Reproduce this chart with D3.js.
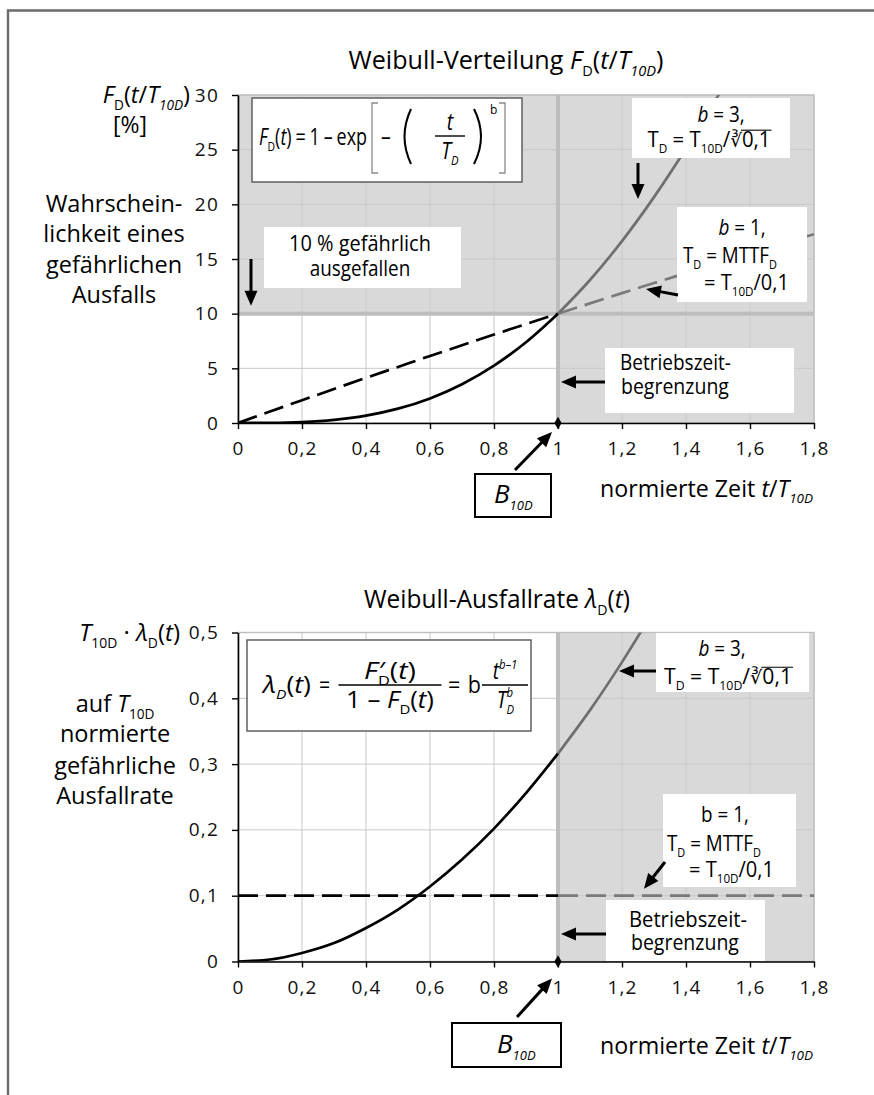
<!DOCTYPE html>
<html><head><meta charset="utf-8">
<script src="https://cdn.jsdelivr.net/npm/d3@7"></script>
<style>
html,body{margin:0;padding:0;background:#fff;}
svg text{font-family:"Open Sans","Noto Sans","DejaVu Sans",sans-serif;white-space:pre;}
</style></head><body>
<svg id="c" width="874" height="1095" xmlns="http://www.w3.org/2000/svg"></svg>
<script>
// ---------- data ----------
const xTicks = [0, 0.2, 0.4, 0.6, 0.8, 1, 1.2, 1.4, 1.6, 1.8];
const xTickLabels = ["0", "0,2", "0,4", "0,6", "0,8", "1", "1,2", "1,4", "1,6", "1,8"];
const yTicksTop = [0, 5, 10, 15, 20, 25, 30];
const yTickLabelsTop = ["0", "5", "10", "15", "20", "25", "30"];
const yTicksBottom = [0, 0.1, 0.2, 0.3, 0.4, 0.5];
const yTickLabelsBottom = ["0", "0,1", "0,2", "0,3", "0,4", "0,5"];

// Weibull distribution F_D in %  (b = 3)
const tF3 = [0, 0.1, 0.2, 0.3, 0.4, 0.5, 0.6, 0.7, 0.8, 0.9, 1.0, 1.1, 1.2, 1.3, 1.4, 1.5, 1.51];
const valF3 = [0, 0.01, 0.08, 0.28, 0.67, 1.31, 2.25, 3.55, 5.25, 7.39, 10.0, 13.08, 16.64, 20.66, 25.10, 29.92, 30.42];
// Weibull distribution F_D in %  (b = 1)
const tF1 = [0, 0.1, 0.2, 0.3, 0.4, 0.5, 0.6, 0.7, 0.8, 0.9, 1.0, 1.1, 1.2, 1.3, 1.4, 1.5, 1.6, 1.7, 1.8];
const valF1 = [0, 1.05, 2.08, 3.11, 4.13, 5.13, 6.13, 7.11, 8.09, 9.05, 10.0, 10.94, 11.88, 12.80, 13.71, 14.62, 15.51, 16.40, 17.27];
// normalised failure rate T10D*lambda_D (b = 3)
const tL3 = [0, 0.1, 0.2, 0.3, 0.4, 0.5, 0.6, 0.7, 0.8, 0.9, 1.0, 1.1, 1.2, 1.3];
const valL3 = [0, 0.003, 0.013, 0.028, 0.051, 0.079, 0.114, 0.155, 0.202, 0.256, 0.316, 0.382, 0.455, 0.534];
// normalised failure rate (b = 1)
const tL1 = [0, 1, 1.8];
const valL1 = [0.1, 0.1, 0.1];

// ---------- setup ----------
const svg = d3.select('#c');
const x = d3.scaleLinear().domain([0, 1.8]).range([238, 814]);
const yT = d3.scaleLinear().domain([0, 30]).range([423, 95]);
const yB = d3.scaleLinear().domain([0, 0.5]).range([961.5, 632.5]);

const SHADE = '#d9d9d9', GRID = '#c9c9c9', THICK = '#bdbdbd', GRAYLINE = '#6f6f6f';

svg.append('path').attr('d', 'M8,1095 V10.5 H874').attr('fill', 'none')
  .attr('stroke', '#6b6b6b').attr('stroke-width', 2.4);

const defs = svg.append('defs');

// sequence of text pieces (italic / sub / sup), optional fit width (horizontal scaling)
function seq(parent, px, py, parts, size, anchor, opts) {
  opts = opts || {};
  const g = parent.append('g');
  const inner = g.append('g');
  let cx = 0;
  parts.forEach(p => {
    if (typeof p === 'string') p = {t: p};
    const small = p.sub || p.sup;
    const fs = p.fs || (small ? size * 0.58 : size);
    const dy = p.sub ? size * 0.28 : (p.sup ? -size * 0.45 : 0);
    cx += (p.dx || 0);
    const t = inner.append('text').attr('x', cx).attr('y', dy + (p.dy || 0))
      .attr('font-size', fs)
      .attr('font-style', p.i ? 'italic' : 'normal')
      .attr('fill', opts.fill || '#000')
      .text(p.t);
    const w = t.node().getComputedTextLength();
    if (p.over) {
      inner.append('line').attr('x1', cx - 1).attr('x2', cx + w + 1)
        .attr('y1', -size * 0.8).attr('y2', -size * 0.8)
        .attr('stroke', '#000').attr('stroke-width', 1.1);
    }
    if (!p.noadv) cx += w;
  });
  const sx = opts.fit ? opts.fit / cx : (opts.sx || 1);
  const W = cx * sx;
  const sh = anchor === 'middle' ? -W / 2 : (anchor === 'end' ? -W : 0);
  g.attr('transform', `translate(${px + sh},${py}) scale(${sx},1)`);
  return {g: g, w: W};
}

function frac(parent, cx, yl, num, den, size, lineW, nOpts, dOpts) {
  seq(parent, cx, yl - 6, num, size, 'middle', nOpts);
  seq(parent, cx, yl + size * 0.98, den, size, 'middle', dOpts);
  parent.append('line').attr('x1', cx - lineW / 2).attr('x2', cx + lineW / 2)
    .attr('y1', yl).attr('y2', yl).attr('stroke', '#000').attr('stroke-width', 1.4);
}

function box(parent, x0, y0, x1, y1, stroke, sw) {
  parent.append('rect').attr('x', x0).attr('y', y0).attr('width', x1 - x0).attr('height', y1 - y0)
    .attr('fill', '#fff').attr('stroke', stroke || 'none').attr('stroke-width', sw || 0);
}

function arrow(parent, x1, y1, x2, y2) {
  const dx = x2 - x1, dy = y2 - y1, L = Math.hypot(dx, dy), ux = dx / L, uy = dy / L;
  const hl = 15, hw = 6.5;
  const bx = x2 - ux * hl, by = y2 - uy * hl;
  parent.append('line').attr('x1', x1).attr('y1', y1).attr('x2', bx + ux * 2).attr('y2', by + uy * 2)
    .attr('stroke', '#000').attr('stroke-width', 3);
  parent.append('path').attr('d', `M${x2},${y2}L${bx - uy * hw},${by + ux * hw}L${bx + uy * hw},${by - ux * hw}Z`)
    .attr('fill', '#000');
}

function paren(parent, xa, xb, y0, y1) {
  const ym = (y0 + y1) / 2;
  parent.append('path').attr('d', `M${xa},${y0}Q${xb},${ym} ${xa},${y1}`)
    .attr('fill', 'none').attr('stroke', '#000').attr('stroke-width', 2.1);
}

function bracket(parent, xa, xb, y0, y1) {
  parent.append('path').attr('d', `M${xb},${y0}H${xa}V${y1}H${xb}`)
    .attr('fill', 'none').attr('stroke', '#8a8a8a').attr('stroke-width', 1.3);
}

function panelBase(g, y, yTicks, shadeRects, id) {
  const x0 = x(0), x1 = x(1.8), yTop = y.range()[1], yBot = y.range()[0];
  g.append('rect').attr('x', x0).attr('y', yTop).attr('width', x1 - x0).attr('height', yBot - yTop).attr('fill', '#fff');
  shadeRects.forEach(r => {
    g.append('rect').attr('x', x(r[0])).attr('y', y(r[3])).attr('width', x(r[1]) - x(r[0]))
      .attr('height', y(r[2]) - y(r[3])).attr('fill', SHADE);
  });
  g.selectAll(null).data(xTicks.slice(1)).enter().append('line')
    .attr('x1', d => x(d)).attr('x2', d => x(d)).attr('y1', yTop).attr('y2', yBot)
    .attr('stroke', GRID).attr('stroke-width', 1);
  g.selectAll(null).data(yTicks.slice(1)).enter().append('line')
    .attr('x1', x0).attr('x2', x1).attr('y1', d => y(d)).attr('y2', d => y(d))
    .attr('stroke', GRID).attr('stroke-width', 1);
  g.append('rect').attr('x', x0).attr('y', yTop).attr('width', x1 - x0).attr('height', yBot - yTop)
    .attr('fill', 'none').attr('stroke', '#bfbfbf').attr('stroke-width', 1.4);
  defs.append('clipPath').attr('id', id).append('rect')
    .attr('x', x0).attr('y', yTop).attr('width', x1 - x0).attr('height', yBot - yTop);
}

function axes(g, y, yTicks, yLabels) {
  const ya = d3.axisLeft(y).tickValues(yTicks).tickFormat((d, i) => yLabels[i])
    .tickSize(6).tickSizeOuter(0).tickPadding(13);
  const xa = d3.axisBottom(x).tickValues(xTicks).tickFormat((d, i) => xTickLabels[i])
    .tickSize(6).tickSizeOuter(0).tickPadding(13);
  const gy = g.append('g').attr('transform', `translate(${x(0)},0)`).call(ya);
  const gx = g.append('g').attr('transform', `translate(0,${y(0)})`).call(xa);
  [gx, gy].forEach(a => {
    a.selectAll('path.domain').attr('stroke', '#000').attr('stroke-width', 1.6);
    a.selectAll('.tick line').attr('stroke', '#000').attr('stroke-width', 1.4);
    a.selectAll('.tick text').attr('font-size', 19).attr('fill', '#111')
      .attr('font-family', '"Open Sans","Noto Sans",sans-serif').attr('letter-spacing', 1.2);
  });
}

function curve(g, y, ts, vs, from, to, color, dash, clip) {
  const pts = ts.map((t, i) => [t, vs[i]]).filter(p => p[0] >= from && p[0] <= to);
  const line = d3.line().x(d => x(d[0])).y(d => y(d[1])).curve(d3.curveMonotoneX);
  g.append('path').attr('d', line(pts)).attr('fill', 'none').attr('stroke', color)
    .attr('stroke-width', 2.7).attr('stroke-dasharray', dash || null)
    .attr('clip-path', `url(#${clip})`);
}

// ================= TOP CHART =================
const gT = svg.append('g');
panelBase(gT, yT, yTicksTop, [[1, 1.8, 0, 30], [0, 1, 10, 30]], 'clipT');
gT.append('line').attr('x1', x(0)).attr('x2', x(1.8)).attr('y1', yT(10)).attr('y2', yT(10))
  .attr('stroke', THICK).attr('stroke-width', 4);
gT.append('line').attr('x1', x(1)).attr('x2', x(1)).attr('y1', yT(30)).attr('y2', yT(0))
  .attr('stroke', THICK).attr('stroke-width', 4);

curve(gT, yT, tF1, valF1, 0, 1, '#000', '20,8', 'clipT');
curve(gT, yT, tF1, valF1, 1, 1.8, '#7a7a7a', '20,8', 'clipT');
curve(gT, yT, tF3, valF3, 0, 1, '#000', null, 'clipT');
curve(gT, yT, tF3, valF3, 1, 2, GRAYLINE, null, 'clipT');
axes(gT, yT, yTicksTop, yTickLabelsTop);
gT.append('path').attr('d', d3.symbol(d3.symbolDiamond, 45)())
  .attr('transform', `translate(${x(1)},${yT(0)})`).attr('fill', '#000');

// title
seq(gT, 506, 69, ['Weibull-Verteilung ', {t: 'F', i: 1}, {t: 'D', sub: 1}, '(', {t: 't', i: 1}, '/', {t: 'T', i: 1}, {t: '10D', sub: 1, i: 1}, ')'], 25, 'middle', {fit: 315});
// left labels
seq(gT, 190, 103, [{t: 'F', i: 1}, {t: 'D', sub: 1}, '(', {t: 't', i: 1}, '/', {t: 'T', i: 1}, {t: '10D', sub: 1, i: 1}, ')'], 23.5, 'end');
seq(gT, 130, 133, ['[%]'], 23, 'middle');
[['Wahrschein-', 212], ['lichkeit eines', 242], ['gefährlichen', 273], ['Ausfalls', 303]].forEach(l => {
  seq(gT, 114, l[1], [l[0]], 23.5, 'middle');
});

// formula box
box(gT, 252, 98, 522, 182, '#555', 1.4);
(function () {
  const yF = 137, s = 23;
  seq(gT, 259, yF + 8, [{t: 'F', i: 1}, {t: 'D', sub: 1}, '(', {t: 't', i: 1}, ')', {t: '=', dx: 5}, {t: '1', dx: 5}, {t: '–', dx: 5}, {t: 'exp', dx: 5}], s, 'start', {fit: 108});
  bracket(gT, 372, 378, yF - 34, yF + 36);
  seq(gT, 381, yF + 8, ['–'], s, 'start', {sx: 0.85});
  paren(gT, 411, 398, yF - 28, yF + 27);
  frac(gT, 450, yF - 1, [{t: 't', i: 1}], [{t: 'T', i: 1}, {t: 'D', sub: 1, i: 1}], s, 30, {sx: 0.85}, {sx: 0.85});
  paren(gT, 474, 488, yF - 28, yF + 27);
  seq(gT, 490, yF - 23, ['b'], 12, 'start');
  bracket(gT, 505, 499, yF - 34, yF + 36);
})();

// b = 3 box
box(gT, 632, 98, 790, 158);
seq(gT, 721, 122, [{t: 'b', i: 1}, ' = 3,'], 21, 'middle', {sx: 0.9});
seq(gT, 709, 147, ['T', {t: 'D', sub: 1}, ' = T', {t: '10D', sub: 1}, '/', {t: '∛', fs: 19}, {t: '0,1', over: 1}], 21, 'middle', {fit: 123});
arrow(gT, 638, 163, 638, 199);

// b = 1 box
box(gT, 677, 207, 807, 302);
seq(gT, 742, 235, [{t: 'b', i: 1}, ' = 1,'], 21, 'middle', {sx: 0.9});
seq(gT, 683, 263, ['T', {t: 'D', sub: 1}, ' = MTTF', {t: 'D', sub: 1}], 21, 'start', {fit: 94});
seq(gT, 704, 290, ['= T', {t: '10D', sub: 1}, '/0,1'], 21, 'start', {fit: 85});
arrow(gT, 678, 295, 646, 289);

// 10 % box
box(gT, 264, 227, 461, 288);
seq(gT, 360, 251, ['10 % gefährlich'], 21, 'middle', {fit: 142});
seq(gT, 360, 276, ['ausgefallen'], 21, 'middle', {sx: 0.9});
arrow(gT, 251, 259, 251, yT(10) - 8);

// Betriebszeit box
box(gT, 605, 348, 794, 413);
seq(gT, 620, 370, ['Betriebszeit-'], 21, 'start', {fit: 111});
seq(gT, 621, 394, ['begrenzung'], 21, 'start', {fit: 108});
arrow(gT, 605, 382, x(1) + 3, 382);

// B10D box
box(gT, 475, 474, 551, 517, '#000', 2);
seq(gT, 494, 503, [{t: 'B', i: 1}, {t: '10D', sub: 1, i: 1, fs: 13}], 26, 'start');
arrow(gT, 515, 470, x(1) - 6, yT(0) + 9);
seq(gT, 600, 497, ['normierte Zeit ', {t: 't', i: 1}, '/', {t: 'T', i: 1}, {t: '10D', sub: 1, i: 1}], 23, 'start', {fit: 213});

// ================= BOTTOM CHART =================
const gB = svg.append('g');
panelBase(gB, yB, yTicksBottom, [[1, 1.8, 0, 0.5]], 'clipB');
gB.append('line').attr('x1', x(1)).attr('x2', x(1)).attr('y1', yB(0.5)).attr('y2', yB(0))
  .attr('stroke', THICK).attr('stroke-width', 4);
curve(gB, yB, tL1, valL1, 0, 1, '#000', '20,8', 'clipB');
curve(gB, yB, tL1, valL1, 1, 1.8, '#7a7a7a', '20,8', 'clipB');
curve(gB, yB, tL3, valL3, 0, 1, '#000', null, 'clipB');
curve(gB, yB, tL3, valL3, 1, 2, GRAYLINE, null, 'clipB');
axes(gB, yB, yTicksBottom, yTickLabelsBottom);
gB.append('path').attr('d', d3.symbol(d3.symbolDiamond, 45)())
  .attr('transform', `translate(${x(1)},${yB(0)})`).attr('fill', '#000');

seq(gB, 497, 608, ['Weibull-Ausfallrate ', {t: 'λ', i: 1}, {t: 'D', sub: 1}, '(', {t: 't', i: 1}, ')'], 25, 'middle', {fit: 266});
seq(gB, 180, 641, [{t: 'T', i: 1}, {t: '10D', sub: 1}, ' · ', {t: 'λ', i: 1}, {t: 'D', sub: 1}, '(', {t: 't', i: 1}, ')'], 24, 'end');
seq(gB, 115, 712, ['auf ', {t: 'T', i: 1}, {t: '10D', sub: 1}], 23.5, 'middle');
[['normierte', 742], ['gefährliche', 774], ['Ausfallrate', 804]].forEach(l => {
  seq(gB, 115, l[1], [l[0]], 23.5, 'middle');
});

// formula box
box(gB, 247, 640, 531, 731, '#555', 1.4);
(function () {
  const yF = 685, s = 23;
  seq(gB, 263, yF + 8, [{t: 'λ', i: 1}, {t: 'D', sub: 1, i: 1}, '(', {t: 't', i: 1}, ')'], s, 'start', {fit: 48});
  seq(gB, 319, yF + 8, ['='], s, 'start', {sx: 0.85});
  frac(gB, 390, yF, [{t: 'F', i: 1}, {t: '′', dx: 1}, {t: 'D', sub: 1, dx: -6}, '(', {t: 't', i: 1}, ')'],
    ['1 – ', {t: 'F', i: 1}, {t: 'D', sub: 1}, '(', {t: 't', i: 1}, ')'], s, 103, {fit: 52}, {fit: 88});
  seq(gB, 448, yF + 8, ['=', {t: 'b', dx: 8}], s, 'start', {fit: 33});
  frac(gB, 505, yF, [{t: 't', i: 1}, {t: 'b–1', sup: 1, i: 1}],
    [{t: 'T', i: 1}, {t: 'D', sub: 1, i: 1, noadv: 1}, {t: 'b', sup: 1, i: 1}], s, 46, {sx: 0.85}, {sx: 0.85});
})();

// b = 3 box
box(gB, 656, 633, 809, 692);
seq(gB, 722, 656, [{t: 'b', i: 1}, ' = 3,'], 21, 'middle', {sx: 0.9});
seq(gB, 728, 684, ['T', {t: 'D', sub: 1}, ' = T', {t: '10D', sub: 1}, '/', {t: '∛', fs: 19}, {t: '0,1', over: 1}], 21, 'middle', {fit: 128});
arrow(gB, 656, 671, 619, 671);

// b = 1 box
box(gB, 663, 794, 796, 887);
seq(gB, 725, 822, ['b = 1,'], 21, 'middle', {sx: 0.9});
seq(gB, 667, 851, ['T', {t: 'D', sub: 1}, ' = MTTF', {t: 'D', sub: 1}], 21, 'start', {fit: 94});
seq(gB, 689, 877, ['= T', {t: '10D', sub: 1}, '/0,1'], 21, 'start', {fit: 85});
arrow(gB, 665, 862, 644, yB(0.1) - 7);

// Betriebszeit box
box(gB, 606, 900, 765, 961);
seq(gB, 629, 927, ['Betriebszeit-'], 21, 'start', {fit: 118});
seq(gB, 631, 950, ['begrenzung'], 21, 'start', {fit: 108});
arrow(gB, 606, 934, x(1) + 3, 934);

// B10D box
box(gB, 452, 1023, 561, 1067, '#000', 2);
seq(gB, 497, 1053, [{t: 'B', i: 1}, {t: '10D', sub: 1, i: 1, fs: 13}], 26, 'start');
arrow(gB, 517, 1017, x(1) - 6, yB(0) + 17);
seq(gB, 600, 1054, ['normierte Zeit ', {t: 't', i: 1}, '/', {t: 'T', i: 1}, {t: '10D', sub: 1, i: 1}], 23, 'start', {fit: 213});
</script>
</body></html>
